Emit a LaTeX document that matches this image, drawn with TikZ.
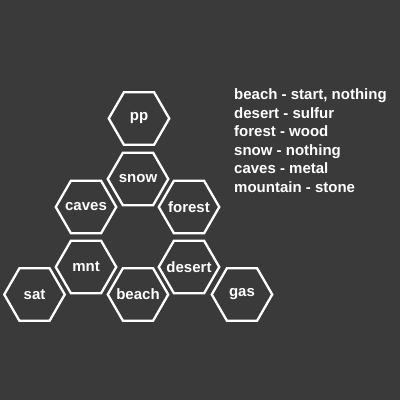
\documentclass[tikz,border=0pt]{standalone}
\usepackage{fontspec}
\setmainfont{Liberation Sans}
\usepackage{tikz}
\usetikzlibrary{shapes.geometric,positioning}
\definecolor{bg}{RGB}{58,58,58}
\newcommand{\hexlabel}[1]{\makebox[0pt]{#1}}

\begin{document}
\begin{tikzpicture}[
    x=1pt, y=-1pt,
    hexa/.style={draw=white, line width=2.3pt, regular polygon, regular polygon sides=6,
                 minimum size=60.5pt, inner sep=0pt, outer sep=0pt, text=white,
                 font=\fontsize{15}{18}\selectfont\bfseries},
    legend/.style={text=white, align=left, inner sep=0pt,
                   font=\fontsize{15}{18.6}\selectfont\bfseries}
  ]
  \fill[bg] (0,0) rectangle (400,400);
  \useasboundingbox (0,0) rectangle (400,400);
  % top
  \node[hexa] (pp) at (139,118.5) {\hexlabel{pp}};
  \node[hexa] (snow) at (138,179) {\hexlabel{snow}};
  % middle row
  \node[hexa] (caves) at (86,207) {\hexlabel{caves}};
  \node[hexa] (forest) at (189,207) {\hexlabel{forest}};
  \node[hexa] (mnt) at (86,267) {\hexlabel{mnt}};
  \node[hexa] (desert) at (189,267) {\hexlabel{desert}};
  % bottom row
  \node[hexa] (sat) at (34.5,294.5) {\hexlabel{sat}};
  \node[hexa] (beach) at (138,294.5) {\hexlabel{beach}};
  \node[hexa] (gas) at (242,294.5) {\hexlabel{gas}};
  % key
  \node[legend, anchor=north west] (key) at (234,88.5)
    {beach - start, nothing\\desert - sulfur\\forest - wood\\snow - nothing\\caves - metal\\mountain - stone};
\end{tikzpicture}
\end{document}
